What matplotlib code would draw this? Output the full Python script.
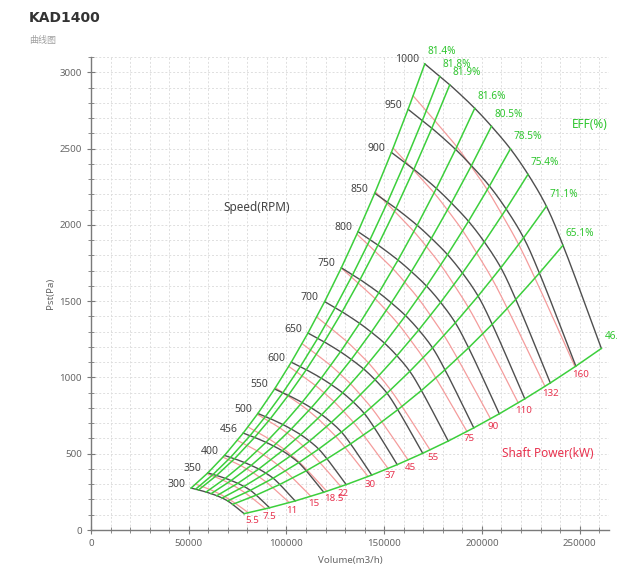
import numpy as np
import matplotlib
matplotlib.use('Agg')
import matplotlib.pyplot as plt
from matplotlib.ticker import MultipleLocator

plt.rcParams['font.family'] = ['Noto Sans', 'Noto Sans CJK SC', 'DejaVu Sans']

# 1000 rpm operating points
base_rpm = 1000
q_base = [170760, 178430, 183540, 196320, 204860, 214570, 223570, 232980, 241460, 261090]
p_base = [3055, 2973, 2918, 2764, 2646, 2498, 2331, 2122, 1866, 1190]
eff_labels = ['81.4%', '81.8%', '81.9%', '81.6%', '80.5%', '78.5%', '75.4%', '71.1%', '65.1%', '46.3%']
# shaft power at those points, kW (estimated)
w_base = [178.0, 180.1, 181.6, 184.7, 187.1, 189.7, 192.0, 193.2, 192.3, 187.6]

speeds = [300, 350, 400, 456, 500, 550, 600, 650, 700, 750, 800, 850, 900, 950, 1000]
powers = [5.5, 7.5, 11, 15, 18.5, 22, 30, 37, 45, 55, 75, 90, 110, 132, 160]

XMAX, YMAX = 265000, 3100

C_SPEED = '#4f4f4f'
C_EFF = '#3ccf3c'
C_EFF_TXT = '#2ec52e'
C_POW = '#f49c9c'
C_POW_TXT = '#e8334f'


def smooth(xs, ys, n=20):
    # centripetal catmull-rom, just for drawing
    k = 0.78
    p = np.column_stack([np.asarray(xs, float) / XMAX, np.asarray(ys, float) / YMAX * k])
    if len(p) < 3:
        return p[:, 0] * XMAX, p[:, 1] / k * YMAX
    p = np.vstack([2 * p[0] - p[1], p, 2 * p[-1] - p[-2]])
    out = []
    for i in range(1, len(p) - 2):
        p0, p1, p2, p3 = p[i - 1:i + 3]
        t0 = 0.0
        t1 = t0 + np.linalg.norm(p1 - p0) ** 0.5
        t2 = t1 + np.linalg.norm(p2 - p1) ** 0.5
        t3 = t2 + np.linalg.norm(p3 - p2) ** 0.5
        t = np.linspace(t1, t2, n)[:, None]
        a1 = (t1 - t) / (t1 - t0) * p0 + (t - t0) / (t1 - t0) * p1
        a2 = (t2 - t) / (t2 - t1) * p1 + (t - t1) / (t2 - t1) * p2
        a3 = (t3 - t) / (t3 - t2) * p2 + (t - t2) / (t3 - t2) * p3
        b1 = (t2 - t) / (t2 - t0) * a1 + (t - t0) / (t2 - t0) * a2
        b2 = (t3 - t) / (t3 - t1) * a2 + (t - t1) / (t3 - t1) * a3
        c = (t2 - t) / (t2 - t1) * b1 + (t - t1) / (t2 - t1) * b2
        out.append(c if i == 1 else c[1:])
    c = np.vstack(out)
    return c[:, 0] * XMAX, c[:, 1] / k * YMAX


fig = plt.figure(figsize=(6.17, 5.76), dpi=100)
ax = fig.add_axes([91 / 617, 46 / 576, 518 / 617, 473 / 576])

qb = np.array(q_base, float)
pb = np.array(p_base, float)
wb = np.array(w_base, float)

# shaft power curves (fan laws: Q~n, P~n^2, W~n^3)
for w in powers:
    r = (w / wb) ** (1 / 3)
    x, y = smooth(qb * r, pb * r ** 2)
    ax.plot(x, y, color=C_POW, lw=0.9, zorder=2)
    ax.annotate(f'{w:g}', (qb[-1] * r[-1], pb[-1] * r[-1] ** 2), xytext=(-3, -3),
                textcoords='offset pixels', ha='left', va='top', fontsize=7,
                color=C_POW_TXT, zorder=6)

# speed curves
for n in speeds:
    r = n / base_rpm
    x, y = smooth(qb * r, pb * r ** 2)
    ax.plot(x, y, color=C_SPEED, lw=1.0, zorder=3)
    ax.annotate(str(n), (qb[0] * r, pb[0] * r ** 2), xytext=(-6, 4),
                textcoords='offset pixels', ha='right', va='center', fontsize=7.5,
                color='#444444', zorder=6)

# efficiency lines
rs = np.array(speeds, float) / base_rpm
for i in range(len(qb)):
    ax.plot(qb[i] * rs, pb[i] * rs ** 2, color=C_EFF, lw=1.1, zorder=4)
    ax.annotate(eff_labels[i], (qb[i], pb[i]), xytext=(3, 12),
                textcoords='offset pixels', ha='left', va='center', fontsize=7.2,
                color=C_EFF_TXT, zorder=6)

ax.text(84870, 2115, 'Speed(RPM)', color='#444444', fontsize=8.5, ha='center', va='center')
ax.text(255100, 2659, 'EFF(%)', color=C_EFF_TXT, fontsize=8.5, ha='center', va='center')
ax.text(233600, 504, 'Shaft Power(kW)', color=C_POW_TXT, fontsize=8.5, ha='center', va='center')

ax.set_xlim(0, XMAX)
ax.set_ylim(0, YMAX)
ax.xaxis.set_major_locator(MultipleLocator(50000))
ax.xaxis.set_minor_locator(MultipleLocator(10000))
ax.yaxis.set_major_locator(MultipleLocator(500))
ax.yaxis.set_minor_locator(MultipleLocator(100))
ax.grid(which='both', color='#dedede', lw=0.7, ls=(0, (2, 2)), zorder=0)
ax.set_axisbelow(True)
for s in ['top', 'right']:
    ax.spines[s].set_visible(False)
for s in ['left', 'bottom']:
    ax.spines[s].set_color('#7a7a7a')
    ax.spines[s].set_linewidth(1.0)
ax.tick_params(which='both', direction='inout', color='#7a7a7a', labelsize=7, labelcolor='#666666')
ax.tick_params(which='major', length=6)
ax.tick_params(which='minor', length=4)
ax.set_xlabel('Volume(m3/h)', fontsize=7, color='#666666', labelpad=6)
ax.set_ylabel('Pst(Pa)', fontsize=7, color='#666666', labelpad=3)

fig.text(29 / 617, 1 - 18 / 576, 'KAD1400', fontsize=10, fontweight='bold', color='#333333',
         ha='left', va='center', family=['DejaVu Sans'])
fig.text(29 / 617, 1 - 40 / 576, '曲线图', fontsize=6.5, color='#a0a0a0', ha='left', va='center',
         family=['Noto Sans CJK SC'])

fig.savefig('out.png', dpi=100)
